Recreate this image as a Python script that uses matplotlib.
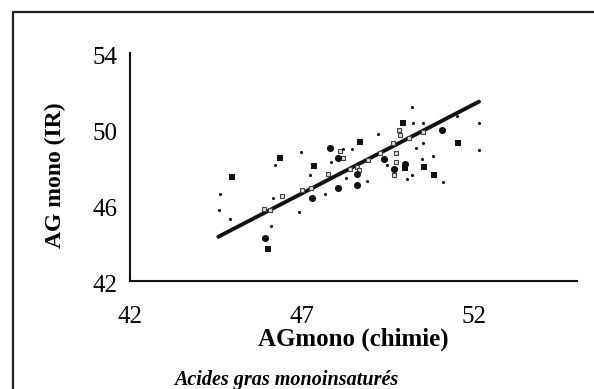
import matplotlib
matplotlib.use("Agg")
import matplotlib.pyplot as plt
from matplotlib.patches import Rectangle
from matplotlib.transforms import ScaledTranslation

# ---- data ----
big_sq_x = [44.96, 46.36, 47.36, 48.69, 49.93, 51.55, 50.00, 50.55, 50.85, 46.02]
big_sq_y = [47.49, 48.46, 48.06, 49.30, 50.30, 49.28, 47.96, 48.02, 47.60, 43.68]

big_ci_x = [45.94, 47.28, 48.06, 48.60, 47.81, 51.08, 49.68, 49.38, 48.05, 48.60, 50.00]
big_ci_y = [44.25, 46.35, 46.91, 47.05, 49.02, 49.95, 47.88, 48.42, 48.46, 47.61, 48.15]

dot_x = [44.62, 44.58, 44.91, 46.10, 46.22, 46.96, 46.92, 47.67, 47.23, 48.88,
         49.22, 50.20, 50.23, 50.51, 52.14, 52.16, 50.51, 50.49, 50.80, 51.11,
         50.06, 50.19, 48.47, 48.20, 47.84, 46.15, 51.50, 50.33, 49.46, 48.28]
dot_y = [46.56, 45.74, 45.25, 44.89, 48.11, 48.81, 45.65, 46.58, 47.60, 47.26,
         49.74, 51.18, 50.32, 50.32, 50.32, 48.91, 49.28, 48.44, 48.58, 47.23,
         47.39, 47.60, 48.95, 48.93, 48.25, 46.35, 50.68, 48.98, 48.10, 47.40]

hol_x = [46.41, 47.26, 47.76, 48.20, 48.12, 48.59, 48.67, 48.93, 49.27, 49.83,
         49.85, 49.75, 49.75, 49.67, 50.10, 50.51, 46.07, 49.65, 45.90, 47.00, 48.40]
hol_y = [46.49, 46.89, 47.61, 48.46, 48.84, 48.02, 47.84, 48.37, 48.72, 49.95,
         49.68, 48.72, 48.28, 47.58, 49.51, 49.86, 45.74, 49.25, 45.80, 46.80, 47.90]

fit_x = [44.57, 52.15]
fit_y = [44.33, 51.44]

x_ticks = [42, 47, 52]
y_ticks = [42, 46, 50, 54]

# ---- figure ----
W, H = 594, 389
fig = plt.figure(figsize=(W / 100, H / 100), dpi=100)
serif = ["Liberation Serif", "DejaVu Serif"]

# outer frame (scanned box)
fig.patches.append(Rectangle((13 / W, -0.05), 1.2, 1 - 12 / H + 0.05,
                             transform=fig.transFigure, fill=False,
                             edgecolor="#222222", linewidth=1.6))

ax = fig.add_axes([130 / W, 1 - 281 / H, (577 - 130) / W, (281 - 53) / H])
ax.set_xlim(42, 55)
ax.set_ylim(42, 54)

ax.plot(fit_x, fit_y, color="#111111", linewidth=2.8, solid_capstyle="round", zorder=2)
ax.scatter(hol_x, hol_y, marker="s", s=10, facecolor="#dddddd", edgecolor="#444444",
           linewidths=0.8, zorder=3)
ax.scatter(dot_x, dot_y, marker="o", s=5, color="#111111", linewidths=0, zorder=3)
ax.scatter(big_sq_x, big_sq_y, marker="s", s=22, color="#111111", linewidths=0, zorder=3)
ax.scatter(big_ci_x, big_ci_y, marker="o", s=26, color="#111111", linewidths=0, zorder=3)

for side in ["top", "right"]:
    ax.spines[side].set_visible(False)
for side in ["left", "bottom"]:
    ax.spines[side].set_linewidth(1.5)
    ax.spines[side].set_color("#111111")

ax.set_xticks(x_ticks)
ax.set_yticks(y_ticks)
ax.tick_params(axis="both", length=0, labelsize=18)
ax.tick_params(axis="x", pad=18)
ax.tick_params(axis="y", pad=9)
shift = ScaledTranslation(0, -3 / 100, fig.dpi_scale_trans)
for lab in ax.get_xticklabels():
    lab.set_family(serif)
for lab in ax.get_yticklabels():
    lab.set_family(serif)
    lab.set_transform(lab.get_transform() + shift)

ax.set_xlabel("AGmono (chimie)", fontsize=18, fontweight="bold", family=serif, labelpad=0)
ax.set_ylabel("AG mono (IR)", fontsize=17, fontweight="bold", family=serif)
ax.yaxis.label.set_va("center")
ax.yaxis.set_label_coords((55 - 130) / 447, (281 - 175) / 228)

fig.text(286 / W, 1 - 380 / H, "Acides gras monoinsaturés", fontsize=14.5,
         fontweight="bold", fontstyle="italic", family=serif, ha="center", va="center")

fig.savefig("out.png", dpi=100)
